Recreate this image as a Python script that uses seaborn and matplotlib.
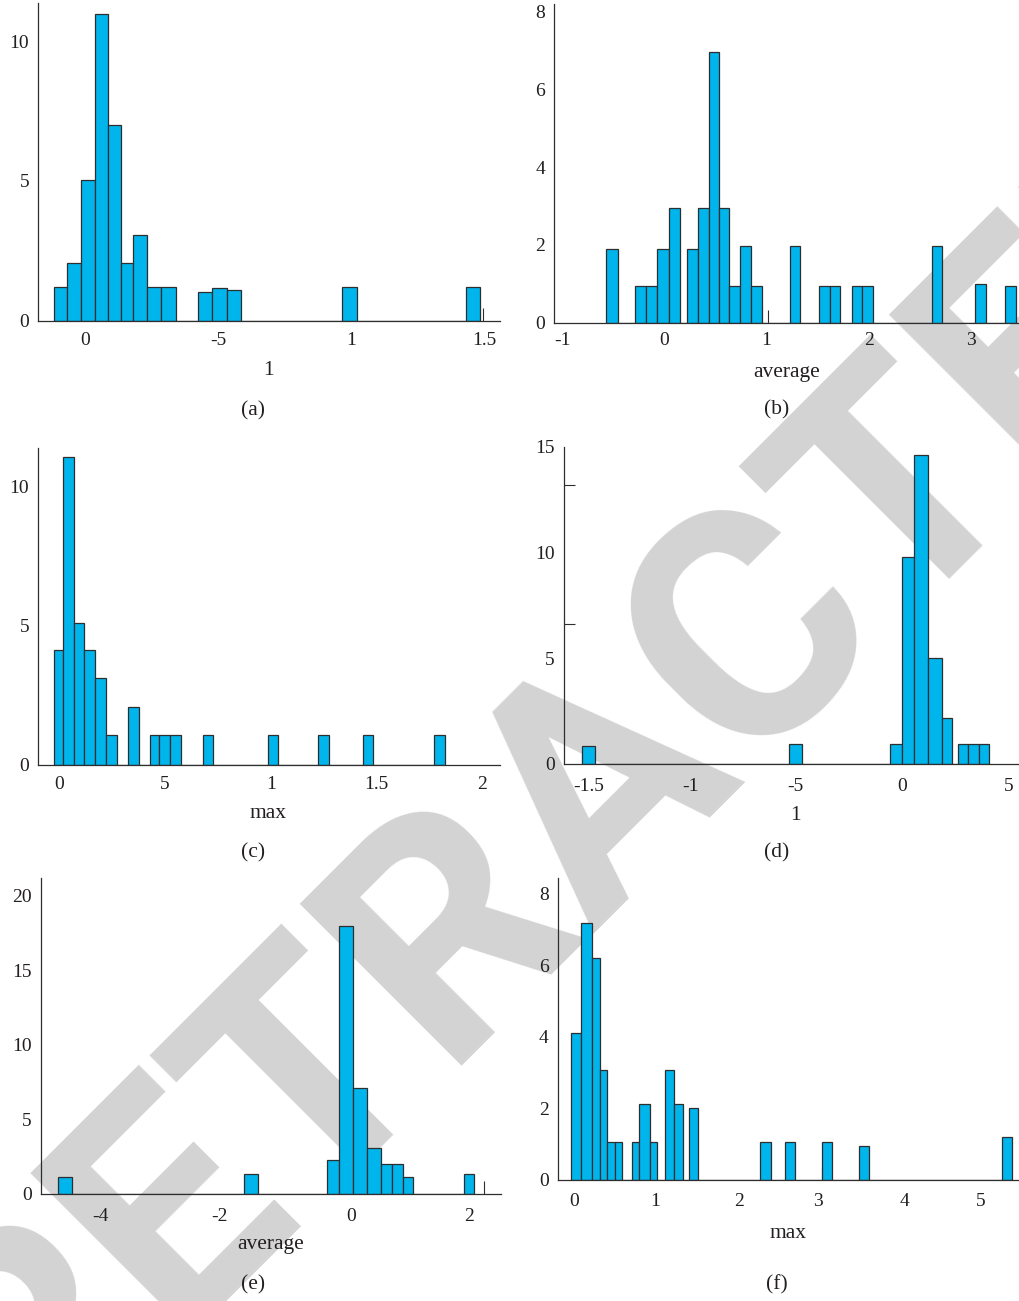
import matplotlib

matplotlib.use("Agg")
import matplotlib.pyplot as plt
import seaborn as sns
from matplotlib import font_manager

sns.set_theme(style="ticks")
plt.rcParams["font.family"] = ["Liberation Serif", "DejaVu Serif"]

W, H = 1020, 1301
BAR = "#00b4ec"
EDGE = "#2e2e2e"
INK = "#231f20"

# ---- panel (a): bars as (left edge, right edge, height)
a_left = [-0.115, -0.068, -0.015, 0.039, 0.086, 0.134, 0.180, 0.232, 0.287, 0.424, 0.477, 0.533, 0.967, 1.431]
a_right = [-0.068, -0.015, 0.039, 0.086, 0.134, 0.180, 0.232, 0.287, 0.341, 0.477, 0.533, 0.585, 1.021, 1.485]
a_height = [1.19, 2.07, 5.05, 10.96, 7.0, 2.07, 3.06, 1.19, 1.19, 1.04, 1.18, 1.1, 1.19, 1.19]
a_xtick_pos = [0, 0.5, 1, 1.5]
a_xtick_lab = ["0", "-5", "1", "1.5"]

# ---- panel (b)
b_left = [-0.574, -0.290, -0.176, -0.069, 0.042, 0.225, 0.330, 0.434, 0.538, 0.636, 0.741, 0.845,
          1.227, 1.514, 1.618, 1.834, 1.938, 2.617, 3.044, 3.334]
b_right = [-0.457, -0.176, -0.069, 0.042, 0.150, 0.330, 0.434, 0.538, 0.636, 0.741, 0.845, 0.959,
           1.331, 1.618, 1.723, 1.938, 2.046, 2.721, 3.148, 3.442]
b_height = [1.89, 0.94, 0.94, 1.89, 2.94, 1.89, 2.94, 6.96, 2.94, 0.94, 1.98, 0.94,
            1.98, 0.94, 0.94, 0.94, 0.94, 1.98, 0.99, 0.94]
b_xtick_pos = [-1, 0, 1, 2, 3]
b_xtick_lab = ["-1", "0", "1", "2", "3"]

# ---- panel (c)
c_left = [-0.025, 0.020, 0.069, 0.120, 0.170, 0.222, 0.328, 0.430, 0.474, 0.524, 0.679, 0.986, 1.225, 1.435, 1.773]
c_right = [0.020, 0.069, 0.120, 0.170, 0.222, 0.272, 0.376, 0.474, 0.524, 0.575, 0.728, 1.036, 1.276, 1.485, 1.824]
c_height = [4.13, 11.08, 5.09, 4.13, 3.14, 1.08, 2.10, 1.08, 1.08, 1.08, 1.08, 1.08, 1.08, 1.08, 1.08]
c_xtick_pos = [0, 0.5, 1, 1.5, 2]
c_xtick_lab = ["0", "5", "1", "1.5", "2"]

# ---- panel (d)
d_left = [-1.503, -0.533, -0.058, -0.003, 0.056, 0.122, 0.184, 0.263, 0.309, 0.359]
d_right = [-1.439, -0.470, -0.003, 0.056, 0.122, 0.184, 0.234, 0.309, 0.359, 0.408]
d_height = [0.83, 0.94, 0.94, 9.81, 14.61, 5.01, 2.17, 0.94, 0.94, 0.94]
d_xtick_pos = [-1.472, -0.995, -0.5, 0, 0.5]
d_xtick_lab = ["-1.5", "-1", "-5", "0", "5"]

# ---- panel (e)
e_left = [-4.657, -1.654, -0.325, -0.120, 0.095, 0.322, 0.553, 0.736, 0.903, 1.893]
e_right = [-4.442, -1.439, -0.120, 0.095, 0.322, 0.553, 0.736, 0.903, 1.064, 2.060]
e_height = [1.16, 1.32, 2.28, 17.97, 7.08, 3.06, 2.01, 2.01, 1.16, 1.32]
e_xtick_pos = [-3.984, -2.058, 0.068, 1.973]
e_xtick_lab = ["-4", "-2", "0", "2"]

# ---- panel (f)
f_left = [-0.039, 0.084, 0.214, 0.316, 0.401, 0.499, 0.711, 0.793, 0.927, 1.115, 1.225, 1.404,
          2.272, 2.577, 3.026, 3.482, 5.230]
f_right = [0.084, 0.214, 0.316, 0.401, 0.499, 0.589, 0.793, 0.927, 1.017, 1.225, 1.335, 1.518,
           2.406, 2.700, 3.148, 3.600, 5.348]
f_height = [4.12, 7.18, 6.20, 3.08, 1.05, 1.05, 1.05, 2.12, 1.05, 3.08, 2.12, 2.0,
            1.05, 1.05, 1.05, 0.95, 1.21]
f_xtick_pos = [0, 0.988, 2.015, 2.985, 4.044, 4.969]
f_xtick_lab = ["0", "1", "2", "3", "4", "5"]

panels = [
    dict(bars=(a_left, a_right, a_height), xt=(a_xtick_pos, a_xtick_lab), xm=[0, 0.5, 1, 1.497],
         yt=[0, 5, 10], ym=[5, 10], xlim=(-0.175, 1.56), ylim=(0, 11.37),
         box=(38.3, 3, 500, 320.7), xlabel="1", xl=(268, 370), tag="(a)", tg=(253, 411), pad=8),
    dict(bars=(b_left, b_right, b_height), xt=(b_xtick_pos, b_xtick_lab), xm=[-1, 0, 1.011, 2, 3],
         yt=[0, 2, 4, 6, 8], ym=[2, 4, 6, 8], xlim=(-1.08, 3.481), ylim=(0, 8.2),
         box=(554, 4, 1020, 322.7), xlabel="average", xl=(787, 372), tag="(b)", tg=(777, 410), pad=7),
    dict(bars=(c_left, c_right, c_height), xt=(c_xtick_pos, c_xtick_lab), xm=[0, 0.5, 1, 1.5, 2],
         yt=[0, 5, 10], ym=[5, 10], xlim=(-0.098, 2.083), ylim=(0, 11.38),
         box=(38.3, 448.3, 500, 765), xlabel="max", xl=(268, 813), tag="(c)", tg=(253, 853), pad=8),
    dict(bars=(d_left, d_right, d_height), xt=(d_xtick_pos, d_xtick_lab), xm=[-1.5, -0.995, -0.5, 0, 0.5],
         yt=[0, 5, 10, 15], ym=[6.63, 13.17], xlim=(-1.586, 0.552), ylim=(0, 15),
         box=(564, 446.8, 1020, 764), xlabel="1", xl=(795, 815), tag="(d)", tg=(777, 853), pad=10),
    dict(bars=(e_left, e_right, e_height), xt=(e_xtick_pos, e_xtick_lab), xm=[-3.984, -2.058, 0.068, 2.215],
         yt=[0, 5, 10, 15, 20], ym=[5, 10, 15, 20], xlim=(-4.937, 2.491), ylim=(0, 21.16),
         box=(41, 878.3, 501, 1194), xlabel="average", xl=(271, 1245), tag="(e)", tg=(253, 1285), pad=10),
    dict(bars=(f_left, f_right, f_height), xt=(f_xtick_pos, f_xtick_lab), xm=[0, 0.988, 2.015, 3.026, 4.044, 4.969],
         yt=[0, 2, 4, 6, 8], ym=[2, 4, 6, 8], xlim=(-0.202, 5.43), ylim=(0, 8.43),
         box=(557.7, 878.3, 1018.3, 1180), xlabel="max", xl=(788, 1233), tag="(f)", tg=(777, 1285), pad=9.5),
]

fig = plt.figure(figsize=(W / 100, H / 100), dpi=100)
fig.patch.set_facecolor("white")

# watermark sits behind the axes
installed = {f.name for f in font_manager.fontManager.ttflist}
mark_font = "Roboto" if "Roboto" in installed else "Liberation Sans"
mark_size = 232 if mark_font == "Roboto" else 222
fig.text(668 / W, 1 - 840 / H, "RETRACTED", rotation=45, rotation_mode="anchor",
         fontsize=mark_size, fontweight="bold", family=mark_font, color="#d3d3d3",
         ha="center", va="baseline", zorder=-1)


def draw_panel(p):
    l, t, r, b = p["box"]
    ax = fig.add_axes([l / W, 1 - b / H, (r - l) / W, (b - t) / H])
    ax.patch.set_alpha(0)
    left, right, height = p["bars"]
    edges = sorted(set(left) | set(right))
    centers = [(lo + hi) / 2 for lo, hi in zip(left, right)]
    sns.histplot(x=centers, weights=height, bins=edges, ax=ax, color=BAR, alpha=1,
                 edgecolor=EDGE, linewidth=0.9, zorder=1)
    ax.set_axisbelow(True)
    ax.set_xlim(p["xlim"])
    ax.set_ylim(p["ylim"])
    ax.set_xlabel("")
    ax.set_ylabel("")

    pos, lab = p["xt"]
    ax.set_xticks(pos, lab)
    ax.set_xticks(p["xm"], minor=True)
    ax.set_yticks(p["yt"], [str(v) for v in p["yt"]])
    ax.set_yticks(p["ym"], minor=True)
    ax.tick_params(axis="both", which="major", length=0, labelsize=14, labelcolor=INK)
    ax.tick_params(axis="x", which="major", pad=p["pad"])
    ax.tick_params(axis="y", which="major", pad=6.5)
    ax.tick_params(axis="x", which="minor", direction="in", length=9.5, width=0.8, color=EDGE)
    ax.tick_params(axis="y", which="minor", direction="in", length=8, width=0.8, color=EDGE)

    sns.despine(ax=ax)
    for s in ("left", "bottom"):
        ax.spines[s].set_color(EDGE)
        ax.spines[s].set_linewidth(0.9)

    fig.text(p["xl"][0] / W, 1 - p["xl"][1] / H, p["xlabel"], ha="center", va="center",
             fontsize=15.5, color=INK)
    fig.text(p["tg"][0] / W, 1 - p["tg"][1] / H, p["tag"], ha="center", va="center",
             fontsize=15.5, color=INK)


for p in panels:
    draw_panel(p)

fig.savefig("out.png", dpi=100)
